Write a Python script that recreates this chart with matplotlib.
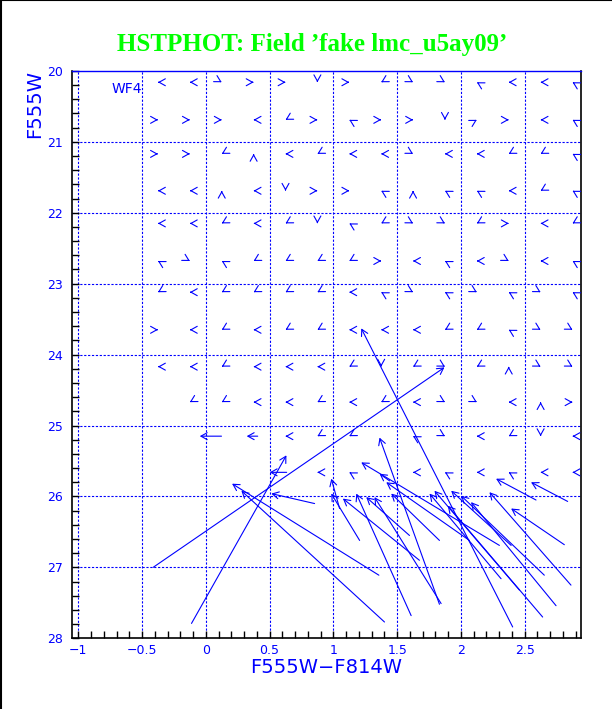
import numpy as np
import matplotlib.pyplot as plt
from matplotlib.patches import FancyArrowPatch
from matplotlib.lines import Line2D
from matplotlib.ticker import MultipleLocator

BLUE = '#0000ff'

# input positions of the fake stars (colour columns, magnitude rows)
grid_color = [-0.375, -0.125, 0.125, 0.375, 0.625, 0.875, 1.125,
              1.375, 1.625, 1.875, 2.125, 2.375, 2.625, 2.875]
grid_mag = [20.16, 20.69, 21.17, 21.69, 22.15, 22.68,
            23.12, 23.65, 24.17, 24.67, 25.15, 25.66]

# direction of the tiny shift of each grid star, one string per row
# ('.' = no small arrow there)
shift_dirs = [
    "<<J>>v>LJJF<<F",
    ">>><L>F>>v7><F",
    ">>L^<L<<J<<LLF",
    "<<^<v>>F^FF<LF",
    "<<L<LvFLJJL><L",
    "FJFLLLL><F<J<F",
    "L<LLLL<FJFJFJF",
    "><L<LL<<<LLFJJ",
    "<<L<<<LvLJL^JJ",
    ".LL<<L<L<JJ<^>",
    "....<LL.FJ<Lv<",
    ".....<F.<F<F<<",
]
dir_angle = {'<': 180, '>': 0, '^': 90, 'v': 270,
             'L': 210, 'J': 330, 'F': 150, '7': 30}

# fake stars with a visible shift: input (colour, mag) -> recovered (colour, mag)
in_color = [-0.413, -0.112, 1.357, 1.401, 0.853, 0.634, 0.123, 0.407,
            2.406, 1.832, 2.589, 2.837, 2.811, 2.863, 2.746, 2.654,
            2.394, 2.641, 2.459, 2.315, 1.832, 1.845, 1.597, 1.610,
            1.049, 1.206, 1.675, 2.067, 1.441, 2.302]
in_mag = [27.00, 27.79, 27.11, 27.77, 26.10, 25.66, 25.15, 25.15,
          27.84, 27.52, 26.05, 26.07, 26.68, 27.25, 27.54, 27.11,
          26.69, 27.70, 27.32, 27.16, 26.62, 27.51, 26.55, 27.68,
          26.17, 26.62, 26.90, 26.62, 25.78, 26.69]
out_color = [1.871, 0.632, 0.206, 0.279, 0.514, 0.501, -0.047, 0.321,
             1.219, 1.362, 2.276, 2.550, 2.394, 2.224, 2.080, 2.002,
             1.924, 1.897, 1.793, 1.754, 1.454, 1.323, 1.258, 1.180,
             0.984, 0.984, 1.075, 1.415, 1.362, 1.219]
out_mag = [24.18, 25.42, 25.82, 25.92, 25.96, 25.66, 25.15, 25.15,
           23.63, 25.17, 25.75, 25.80, 26.17, 25.94, 26.08, 25.99,
           25.92, 26.13, 25.92, 25.96, 25.96, 26.01, 26.01, 25.96,
           25.75, 25.96, 26.03, 25.80, 25.68, 25.52]

fig = plt.figure(figsize=(6.12, 7.09), dpi=100)
ax = fig.add_axes([0.117, 0.0997, 0.832, 0.8003])
ax.set_xlim(-1.052, 2.94)
ax.set_ylim(28, 20)


def arrow(x0, y0, x1, y1):
    ax.add_patch(FancyArrowPatch((x0, y0), (x1, y1),
                                 arrowstyle='->,head_length=0.45,head_width=0.25',
                                 mutation_scale=10, color=BLUE, lw=0.8,
                                 shrinkA=0, shrinkB=0, zorder=3))


# small shifts: draw just the arrow head pointing the right way
for m, row in zip(grid_mag, shift_dirs):
    for c, code in zip(grid_color, row):
        if code == '.':
            continue
        a = np.radians(dir_angle[code])
        arrow(c - 0.012 * np.cos(a), m + 0.021 * np.sin(a), c, m)

# large shifts
for x0, y0, x1, y1 in zip(in_color, in_mag, out_color, out_mag):
    arrow(x0, y0, x1, y1)

# grid and frame
for gx in [-1, -0.5, 0, 0.5, 1, 1.5, 2, 2.5]:
    ax.axvline(gx, color=BLUE, lw=0.8, ls=(0, (2, 1.5)), zorder=1)
for gy in [21, 22, 23, 24, 25, 26, 27]:
    ax.axhline(gy, color=BLUE, lw=0.8, ls=(0, (2, 1.5)), zorder=1)

for side in ['left', 'bottom', 'right']:
    ax.spines[side].set_color('black')
    ax.spines[side].set_linewidth(1.2)
ax.spines['top'].set_color(BLUE)
ax.spines['top'].set_linewidth(1.0)

ax.set_xticks([-1, -0.5, 0, 0.5, 1, 1.5, 2, 2.5])
ax.set_xticklabels(['\u22121', '\u22120.5', '0', '0.5', '1', '1.5', '2', '2.5'])
ax.set_yticks([20, 21, 22, 23, 24, 25, 26, 27, 28])
ax.xaxis.set_minor_locator(MultipleLocator(0.1))
ax.yaxis.set_minor_locator(MultipleLocator(0.2))
ax.tick_params(which='both', direction='in', length=5, width=1,
               color='black', labelcolor=BLUE, labelsize=9,
               top=False, right=False)
ax.tick_params(axis='x', pad=4)
ax.tick_params(axis='y', pad=6)

ax.set_xlabel('F555W\u2212F814W', color=BLUE, fontsize=14)
ax.xaxis.set_label_coords(0.5, -0.035, transform=ax.transAxes)
ax.xaxis.label.set_va('top')
ax.set_ylabel('F555W', color=BLUE, fontsize=14)
ax.yaxis.set_label_coords(-0.072, 0.942)
ax.yaxis.label.set_va('center')

ax.text(-0.739, 20.25, 'WF4', color=BLUE, fontsize=10, ha='left', va='center')

fig.text(0.51, 1 - 44 / 709, 'HSTPHOT: Field \u2019fake lmc_u5ay09\u2019',
         color='#00ff00', fontsize=18, fontweight='bold',
         family='Liberation Serif', ha='center', va='center')

# black border on the left and top of the window
fig.add_artist(Line2D([0.0016, 0.0016], [0, 1], color='black', lw=1.5))
fig.add_artist(Line2D([0, 1], [0.9993, 0.9993], color='black', lw=0.8))

fig.savefig('out.png', dpi=100)
